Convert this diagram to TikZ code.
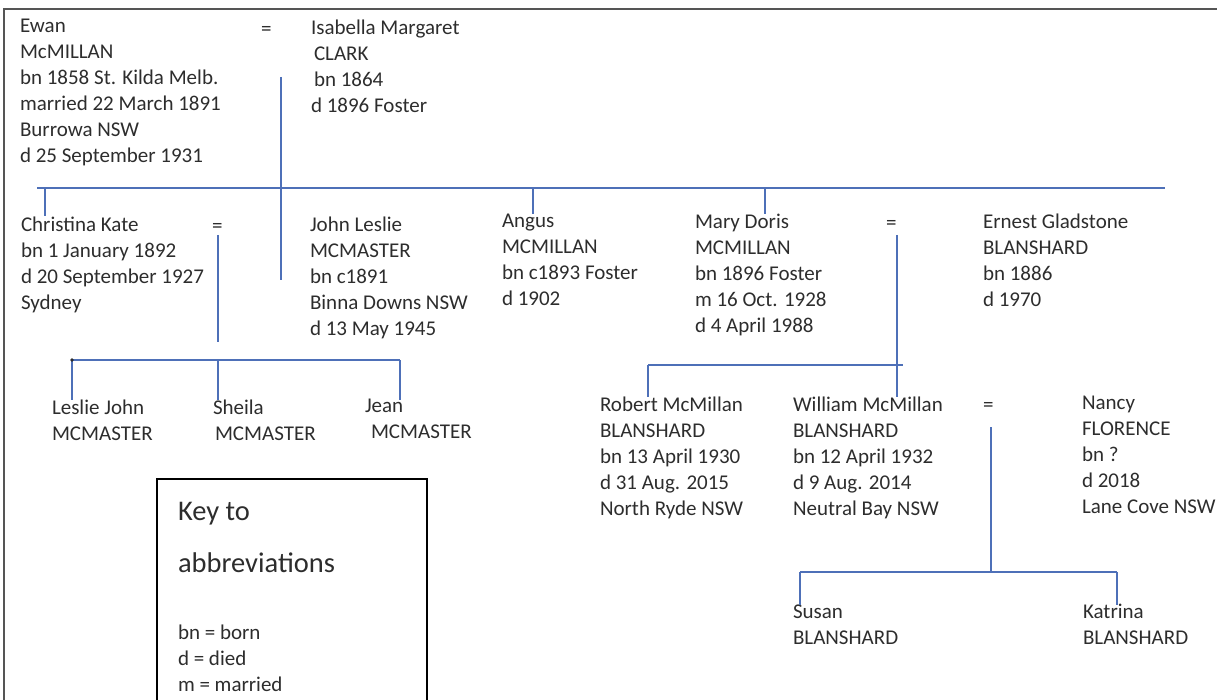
\documentclass[tikz,border=0pt]{standalone}
\usepackage{fontspec}
\setmainfont{Carlito}
\newcommand*{\treefont}{\fontsize{21}{26}\selectfont}
\newcommand*{\keyfont}{\fontsize{28.5}{34}\selectfont}
\definecolor{ink}{RGB}{45,45,45}
\definecolor{treeblue}{RGB}{78,112,184}
\definecolor{rulegrey}{RGB}{85,85,85}
\usetikzlibrary{positioning}
\tikzstyle{base}=[x=1pt, y=-1pt, inner sep=0pt, outer sep=0pt]
\tikzstyle{person}=[anchor=north west, yshift=13.5pt, align=left, text=ink, font=\treefont, execute at begin node=\strut]
\tikzstyle{wed}=[anchor=base west, text=ink, font=\treefont]
\tikzstyle{keyhead}=[anchor=base west, text=ink, font=\keyfont]
\tikzstyle{kin}=[treeblue, line width=1.4pt]
\tikzstyle{pagerule}=[rulegrey, line width=2pt]
\tikzstyle{keybox}=[black, line width=1.5pt]

\begin{document}
\begin{tikzpicture}[base]
    \useasboundingbox (0,0) rectangle (1217,700);
    \draw [pagerule] (4,700) -- (4,9) -- (1217,9);

        \node [person] (ewan) at (20,33) {Ewan\\McMILLAN\\bn 1858 St. Kilda Melb.\\married 22 March 1891\\Burrowa NSW\\d 25 September 1931};
        \node [wed] (eqA) at (261,36) {=};
        \node [person] (isabella) at (311,33) {Isabella Margaret\\\hspace*{3pt}CLARK\\\hspace*{3pt}bn 1864\\d 1896 Foster};

        \node [person] (christina) at (21,230) {Christina Kate\\bn 1 January 1892\\d 20 September 1927\\Sydney};
        \node [wed] (eqB) at (212,233) {=};
        \node [person] (john) at (310,230) {John Leslie\\MCMASTER\\bn c1891\\Binna Downs NSW\\d 13 May 1945};
        \node [person] (angus) at (502,228) {Angus\\MCMILLAN\\bn c1893 Foster\\d 1902};
        \node [person] (mary) at (695,228) {Mary Doris\\MCMILLAN\\bn 1896 Foster\\m 16 Oct. 1928\\d 4 April 1988};
        \node [wed] (eqC) at (886,230) {=};
        \node [person] (ernest) at (983,227) {Ernest Gladstone\\BLANSHARD\\bn 1886\\d 1970};

        \node [person] (leslie) at (52,413) {Leslie John\\MCMASTER};
        \node [person] (sheila) at (213,413) {Sheila\\\hspace*{2pt}MCMASTER};
        \node [person] (jean) at (365,413) {Jean\\\hspace*{6pt}MCMASTER};

        \node [person] (robert) at (600,410) {Robert McMillan\\BLANSHARD\\bn 13 April 1930\\d 31 Aug. 2015\\North Ryde NSW};
        \node [person] (william) at (793,410) {William McMillan\\BLANSHARD\\bn 12 April 1932\\d 9 Aug. 2014\\Neutral Bay NSW};
        \node [wed] (eqD) at (983,411) {=};
        \node [person] (nancy) at (1082,410) {Nancy\\FLORENCE\\bn ?\\d 2018\\Lane Cove NSW};

        \node [person] (susan) at (793,618) {Susan\\BLANSHARD};
        \node [person] (katrina) at (1083,618) {Katrina\\BLANSHARD};

        \coordinate (barL) at (37,188);
        \coordinate (barR) at (1165,188);
        \coordinate (stemA) at (281,77);
        \coordinate (stemAend) at (281,280);
        \coordinate (dropC) at (45,188);
        \coordinate (dropG) at (533,188);
        \coordinate (dropM) at (765,188);
        \draw [kin] (barL) -- (barR);
        \draw [kin] (stemA) -- (stemAend);
        \draw [kin] (dropC) -- (dropC |- christina.north);
        \draw [kin] (dropG) -- (dropG |- angus.north);
        \draw [kin] (dropM) -- (dropM |- mary.north);

        \coordinate (stemB) at (218,235);
        \coordinate (stemBend) at (218,342);
        \coordinate (barBL) at (72,360);
        \coordinate (dropS) at (218,360);
        \coordinate (barBR) at (400,360);
        \draw [kin] (stemB) -- (stemBend);
        \draw [kin] (barBL) -- (barBR);
        \draw [kin] (barBL) -- (barBL |- leslie.north);
        \draw [kin] (dropS) -- (dropS |- sheila.north);
        \draw [kin] (barBR) -- (barBR |- jean.north);
        \fill [ink] (barBL) circle (1.8pt);

        \coordinate (stemC) at (897,235);
        \coordinate (barCL) at (648,365);
        \coordinate (barCR) at (903,365);
        \draw [kin] (stemC) -- (stemC |- william.north);
        \draw [kin] (barCL) -- (barCR);
        \draw [kin] (barCL) -- (barCL |- robert.north);

        \coordinate (stemD) at (991,427);
        \coordinate (barDL) at (800,572);
        \coordinate (barDR) at (1117,572);
        \draw [kin] (stemD) -- (stemD |- barDL);
        \draw [kin] (barDL) -- (barDR);
        \draw [kin] (barDL) -- (barDL |- susan.north);
        \draw [kin] (barDR) -- (barDR |- katrina.north);

        \coordinate (keyBL) at (157,700);
        \coordinate (keyTR) at (427,479);
        \coordinate (keyBR) at (427,700);
        \draw [keybox] (keyBL) |- (keyTR) -- (keyBR);
        \node [keyhead] (keytitle) at (178,520) {Key to};
        \node [keyhead] (keyabbr) at (178,572) {abbreviations};
        \node [person] (keylist) at (178,638) {bn = born\\d = died\\m = married};
\end{tikzpicture}
\end{document}
